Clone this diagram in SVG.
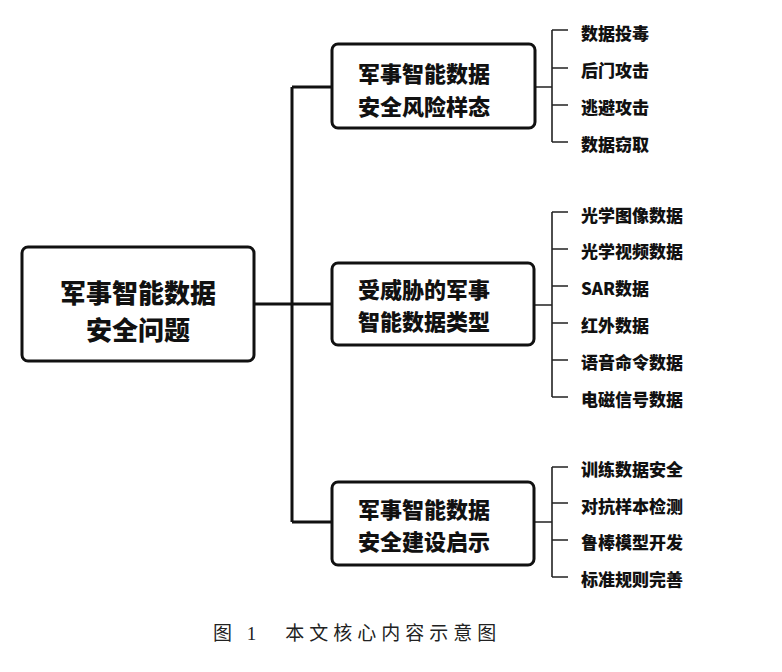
<svg xmlns="http://www.w3.org/2000/svg" width="782" height="672" viewBox="0 0 782 672">
<style>
.box{fill:#fff;stroke:#111;stroke-width:3}
.t{font-family:"Noto Sans CJK SC","Liberation Sans",sans-serif;font-weight:900;fill:#111;dominant-baseline:central}
.root{font-size:26px;text-anchor:middle}
.mid{font-size:22px;text-anchor:middle}
.leaf{font-size:17px}
.thick{fill:none;stroke:#111;stroke-width:3}
.thin{fill:none;stroke:#222;stroke-width:1.6}
.cap{font-family:"Liberation Serif","Noto Sans CJK SC",serif;font-size:19px;fill:#222;letter-spacing:5px;dominant-baseline:central}
</style>
<rect width="782" height="672" fill="#fff"/>
<g id="connectors">
<path class="thick" d="M255 304H292M292 87V522M292 87H332M292 304H332M292 522H332"/>
<path class="thin" d="M535 87H552M552 30V142M552 30H568M552 68H568M552 105H568M552 142H568"/>
<path class="thin" d="M534 305H552M552 212V397M552 212H568M552 249H568M552 286H568M552 323H568M552 360H568M552 397H568"/>
<path class="thin" d="M534 522H552M552 467V577M552 467H568M552 503H568M552 540H568M552 577H568"/>
</g>
<g id="root"><rect class="box" x="22" y="247" width="232" height="114" rx="6"/>
<text class="t root" x="138" y="291">军事智能数据</text><text class="t root" x="138" y="328">安全问题</text></g>
<g id="n1"><rect class="box" x="332" y="44" width="203" height="84" rx="6"/>
<text class="t mid" x="424" y="72">军事智能数据</text><text class="t mid" x="424" y="105">安全风险样态</text></g>
<g id="n2"><rect class="box" x="332" y="263" width="202" height="82" rx="6"/>
<text class="t mid" x="424" y="288">受威胁的军事</text><text class="t mid" x="424" y="320">智能数据类型</text></g>
<g id="n3"><rect class="box" x="332" y="482" width="202" height="83" rx="6"/>
<text class="t mid" x="424" y="508">军事智能数据</text><text class="t mid" x="424" y="540">安全建设启示</text></g>
<g id="leaves1">
<text class="t leaf" x="581" y="32">数据投毒</text>
<text class="t leaf" x="581" y="69">后门攻击</text>
<text class="t leaf" x="581" y="106">逃避攻击</text>
<text class="t leaf" x="581" y="143">数据窃取</text>
</g>
<g id="leaves2">
<text class="t leaf" x="581" y="214">光学图像数据</text>
<text class="t leaf" x="581" y="250">光学视频数据</text>
<text class="t leaf" x="581" y="287">SAR数据</text>
<text class="t leaf" x="581" y="324">红外数据</text>
<text class="t leaf" x="581" y="361">语音命令数据</text>
<text class="t leaf" x="581" y="398">电磁信号数据</text>
</g>
<g id="leaves3">
<text class="t leaf" x="581" y="468">训练数据安全</text>
<text class="t leaf" x="581" y="505">对抗样本检测</text>
<text class="t leaf" x="581" y="541">鲁棒模型开发</text>
<text class="t leaf" x="581" y="578">标准规则完善</text>
</g>
<text class="cap" x="213" y="633">图 1　本文核心内容示意图</text>
</svg>
